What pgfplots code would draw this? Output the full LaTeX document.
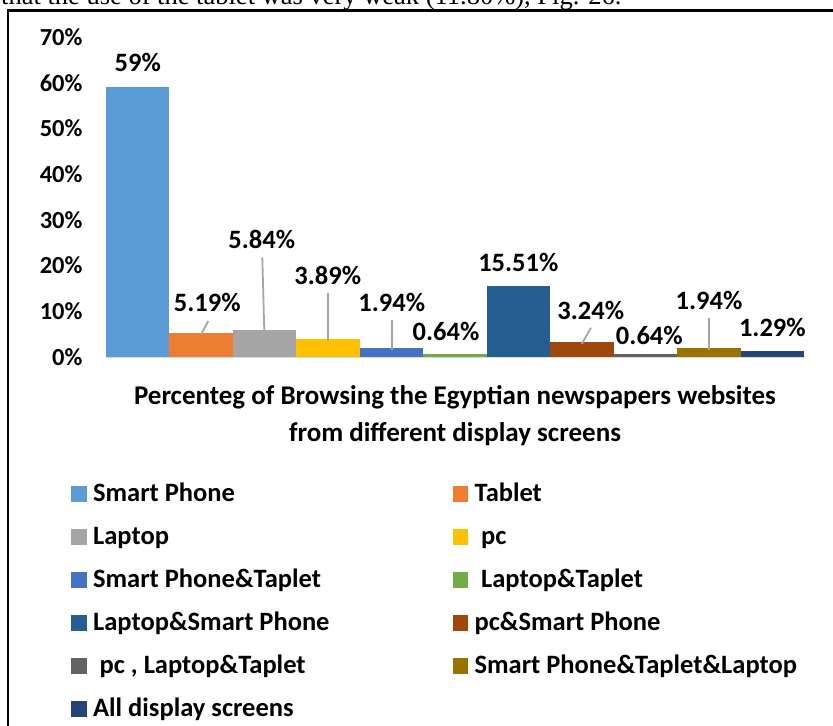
\documentclass[border=0pt]{standalone}
\usepackage{pgfplots}
\pgfplotsset{compat=1.18}
\usepackage{pgfplotstable}
\usepackage{fontspec}
\setmainfont{Carlito}
\newfontfamily\capfont{Liberation Serif}
\definecolor{c1}{HTML}{5B9BD5}
\definecolor{c2}{HTML}{ED7D31}
\definecolor{c3}{HTML}{A5A5A5}
\definecolor{c4}{HTML}{FFC000}
\definecolor{c5}{HTML}{4472C4}
\definecolor{c6}{HTML}{70AD47}
\definecolor{c7}{HTML}{255E91}
\definecolor{c8}{HTML}{9E480E}
\definecolor{c9}{HTML}{636363}
\definecolor{c10}{HTML}{997300}
\definecolor{c11}{HTML}{264478}
\definecolor{leadercol}{HTML}{A6A6A6}
\definecolor{basecol}{HTML}{D9D9D9}

% label positions (lx, ly) and label values
\pgfplotstableread{
idx val lx ly
0 59 0.000 64.38
1 5.19 1.0965 11.88
2 5.84 1.9539 25.81
3 3.89 2.9941 17.94
4 1.94 4.0028 12.03
5 0.64 4.8585 5.53
6 15.51 5.998 20.63
7 3.24 7.139 10.28
8 0.64 8.0626 4.81
9 1.94 9.0035 12.47
10 1.29 10.001 6.50
}\labeltable

\begin{document}
\begin{tikzpicture}
\path[use as bounding box, clip] (0,0) rectangle (833bp,-726bp);
\fill[white] (0,0) rectangle (833bp,-726bp);
\node[anchor=base west, inner sep=0pt, font=\capfont\fontsize{26.5bp}{30bp}\selectfont] at (1bp,-4.5bp) {that the use of the tablet was very weak (11.80\%), Fig. 26.};
\draw[line width=2.4bp] (8bp,-780bp) -- (8bp,-10.5bp) -- (880bp,-10.5bp);
\begin{axis}[
  at={(106bp,-357bp)}, anchor=south west,
  scale only axis, width=698bp, height=320bp,
  xmin=-0.5, xmax=10.5, ymin=0, ymax=70,
  clip=false,
  axis line style={draw=none},
  xtick=\empty,
  ytick={0,10,20,30,40,50,60,70},
  yticklabels={0\%,10\%,20\%,30\%,40\%,50\%,60\%,70\%},
  major tick length=0pt,
  yticklabel style={font=\bfseries\fontsize{24.5bp}{28bp}\selectfont, inner sep=0pt, anchor=east, xshift=-23.3bp},
  legend columns=2,
  legend cell align=left,
  legend style={at={(axis description cs:-0.0501,-0.3959)}, anchor=north west, draw=none, fill=none,
    inner sep=0pt, outer sep=0pt, column sep=0pt, row sep=0pt,
    font=\bfseries\fontsize{26.5bp}{30bp}\selectfont,
    nodes={inner sep=0pt, text height=18bp, text depth=25bp},
    cells={anchor=base west},
    /tikz/every odd column/.append style={column sep=6.6bp}},
  legend image code/.code={\fill[#1] (0bp,0bp) rectangle (15.5bp,15.5bp);},
  mybar/.style={ybar, bar width=1, bar shift=0pt, draw=none, fill=#1},
  leader/.style={forget plot, draw=leadercol, line width=1.8bp, mark=none},
]
\addplot[forget plot, draw=basecol, line width=2bp, mark=none] coordinates {(-0.5,0) (10.52,0)};
\addplot[mybar=c1] coordinates {(0,59)};
\addlegendentry{\makebox[359.4bp][l]{Smart Phone}}
\addplot[mybar=c2] coordinates {(1,5.19)};
\addlegendentry{Tablet}
\addplot[mybar=c3] coordinates {(2,5.84)};
\addlegendentry{\makebox[359.4bp][l]{Laptop}}
\addplot[mybar=c4] coordinates {(3,3.89)};
\addlegendentry{\hspace*{6.5bp}pc}
\addplot[mybar=c5] coordinates {(4,1.94)};
\addlegendentry{\makebox[359.4bp][l]{Smart Phone\&Taplet}}
\addplot[mybar=c6] coordinates {(5,0.64)};
\addlegendentry{\hspace*{6.5bp}Laptop\&Taplet}
\addplot[mybar=c7] coordinates {(6,15.51)};
\addlegendentry{\makebox[359.4bp][l]{Laptop\&Smart Phone}}
\addplot[mybar=c8] coordinates {(7,3.24)};
\addlegendentry{pc\&Smart Phone}
\addplot[mybar=c9] coordinates {(8,0.64)};
\addlegendentry{\makebox[359.4bp][l]{\hspace*{6.5bp}pc , Laptop\&Taplet}}
\addplot[mybar=c10] coordinates {(9,1.94)};
\addlegendentry{Smart Phone\&Taplet\&Laptop}
\addplot[mybar=c11] coordinates {(10,1.29)};
\addlegendentry{All display screens}
% leader lines
\addplot[leader] coordinates {(1.1123,7.88) (0.9972,4.88)};
\addplot[leader] coordinates {(1.9633,21.81) (1.9949,5.40)};
\addplot[leader] coordinates {(3.0035,13.94) (3.0035,3.50)};
\addplot[leader] coordinates {(4.0028,8.09) (4.0028,1.53)};
\addplot[leader] coordinates {(7.1438,6.41) (6.9972,2.84)};
\addplot[leader] coordinates {(9.0035,8.60) (9.0035,1.53)};
% data labels
\addplot[forget plot, draw=none, mark=none,
  point meta=explicit symbolic,
  nodes near coords={\pgfplotspointmeta\%},
  every node near coord/.append style={anchor=center, inner sep=0pt, text=black,
    font=\bfseries\fontsize{26.5bp}{30bp}\selectfont}]
  table[x=lx, y=ly, meta=val] {\labeltable};
\end{axis}
\node[anchor=base, font=\bfseries\fontsize{27bp}{32bp}\selectfont] at (455bp,-404.3bp) {Percenteg of Browsing the Egyptian newspapers websites};
\node[anchor=base, font=\bfseries\fontsize{27bp}{32bp}\selectfont] at (455bp,-441bp) {from different display screens};
\end{tikzpicture}
\end{document}
